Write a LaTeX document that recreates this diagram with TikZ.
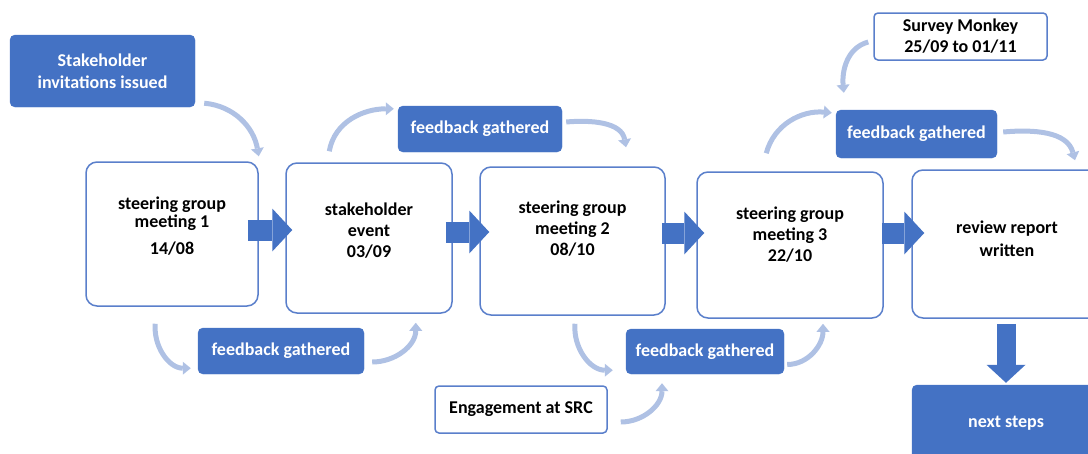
\documentclass[tikz,border=0pt]{standalone}
\usepackage{fontspec}
\setmainfont{Carlito}
\usetikzlibrary{arrows.meta}
\definecolor{mainblue}{HTML}{4472C4}
\definecolor{bord}{HTML}{5A7FCB}
\definecolor{lightarr}{HTML}{AFC1E4}
\tikzset{
  whitebox/.style={draw=bord, line width=1.5pt, rounded corners=11pt, fill=white, inner sep=0pt},
  smallbox/.style={draw=bord, line width=1.5pt, rounded corners=4pt, fill=white, inner sep=0pt,
    font=\fontsize{18}{21}\selectfont\bfseries, align=center},
  bluebox/.style={fill=mainblue, draw=mainblue, rounded corners=5pt, inner sep=0pt,
    text=white, font=\fontsize{18}{22}\selectfont\bfseries, align=center},
  txt/.style={font=\fontsize{18}{21}\selectfont\bfseries, align=center, inner sep=0pt},
  curv/.style={draw=lightarr, line width=5pt, -{Triangle[length=8pt,width=13pt,line width=0pt]}},
  blockarr/.style={draw=mainblue, line width=21pt, -{Triangle[length=20pt,width=43pt,line width=0pt]}},
  downarr/.style={draw=mainblue, line width=19pt, -{Triangle[length=18pt,width=39pt,line width=0pt]}}
}
\begin{document}
\begin{tikzpicture}[x=1pt,y=-1pt]
\useasboundingbox (0,0) rectangle (1088,453);
\clip (0,0) rectangle (1088,453);

% blue boxes
\node[bluebox, minimum width=185pt, minimum height=72pt] (inv) at (102.5,71) {Stakeholder\\invitations issued};
\node[bluebox, minimum width=164pt, minimum height=46pt] (fb1) at (480,129) {feedback gathered};
\node[bluebox, minimum width=161pt, minimum height=48pt] (fb2) at (916.5,134) {feedback gathered};
\node[bluebox, minimum width=166pt, minimum height=46pt] (fb3) at (281,351) {feedback gathered};
\node[bluebox, minimum width=158pt, minimum height=45pt] (fb4) at (705,351.5) {feedback gathered};
\node[bluebox, minimum width=190pt, minimum height=80pt] (nx) at (1007,425) {};
\node[txt, text=white] (nxt) at (1006,423) {next steps};

% small white boxes
\node[smallbox, minimum width=173pt, minimum height=47pt] (sm) at (960.5,36.5) {Survey Monkey\\25/09 to 01/11};
\node[smallbox, minimum width=172pt, minimum height=47pt] (eng) at (521,409.5) {Engagement at SRC};

% big white boxes
\node[whitebox, minimum width=172pt, minimum height=144pt] (m1) at (172,234) {};
\node[whitebox, minimum width=166pt, minimum height=150pt] (ev) at (369,238) {};
\node[whitebox, minimum width=185pt, minimum height=148pt] (m2) at (572.5,241) {};
\node[whitebox, minimum width=186pt, minimum height=146pt] (m3) at (790,245) {};
\node[whitebox, minimum width=190pt, minimum height=148pt] (rev) at (1007,244) {};

\node[txt] (m1t) at ([yshift=8pt]m1.center) {steering group\\[-3pt]meeting 1\\[6pt]14/08};
\node[txt] (evt) at ([yshift=7pt]ev.center) {stakeholder\\event\\03/09};
\node[txt] (m2t) at ([yshift=12pt]m2.center) {steering group\\meeting 2\\08/10};
\node[txt] (m3t) at ([yshift=10pt]m3.center) {steering group\\meeting 3\\22/10};
\node[txt] (revt) at ([yshift=5pt]rev.center) {review report\\[2pt]written};

% block arrows
\draw[blockarr] ([shift={(-11pt,4pt)}]m1.east) -- ([shift={(7pt,8pt)}]ev.west);
\draw[blockarr] ([shift={(-7pt,6pt)}]ev.east) -- ([shift={(10pt,9pt)}]m2.west);
\draw[blockarr] ([shift={(-4pt,8pt)}]m2.east) -- ([shift={(8pt,12pt)}]m3.west);
\draw[blockarr] ([shift={(-2pt,12pt)}]m3.east) -- ([shift={(13pt,11pt)}]rev.west);
\draw[downarr] ([shift={(-1pt,-5pt)}]rev.south) -- ([shift={(-1pt,2pt)}]nx.north);

% curved arrows
\draw[curv] ([shift={(9pt,4pt)}]inv.south east) to[out=-5,in=100] ([shift={(0pt,5pt)}]m1.north east);
\draw[curv] ([shift={(44pt,11pt)}]ev.north west) to[out=80,in=180] ([shift={(-4pt,-3pt)}]fb1.north west);
\draw[curv] ([shift={(4pt,7pt)}]fb1.east) to[out=5,in=100] ([shift={(53.5pt,19pt)}]m2.north);
\draw[curv] ([shift={(70pt,18pt)}]m3.north west) to[out=75,in=175] ([shift={(-4pt,-3pt)}]fb2.north west);
\draw[curv] ([shift={(6pt,2pt)}]fb2.east) to[out=5,in=105] ([shift={(68pt,9pt)}]rev.north);
\draw[curv] ([shift={(-5pt,-5.5pt)}]sm.west) to[out=195,in=95] ([shift={(8pt,17pt)}]fb2.north west);
\draw[curv] ([shift={(70pt,-17pt)}]m1.south west) to[out=-95,in=180] ([shift={(-7pt,6pt)}]fb3.south west);
\draw[curv] ([shift={(8pt,-11pt)}]fb3.east) to[out=0,in=-90] ([shift={(-37pt,-9pt)}]ev.south east);
\draw[curv] ([shift={(2.5pt,-8pt)}]m2.south) to[out=-95,in=180] ([shift={(-13pt,4pt)}]fb4.south west);
\draw[curv] ([shift={(3pt,-13pt)}]fb4.east) to[out=0,in=-90] ([shift={(33pt,-5pt)}]m3.south);
\draw[curv] ([shift={(13pt,-12.5pt)}]eng.east) to[out=0,in=-90] ([shift={(-43pt,-9pt)}]fb4.south);
\end{tikzpicture}
\end{document}
